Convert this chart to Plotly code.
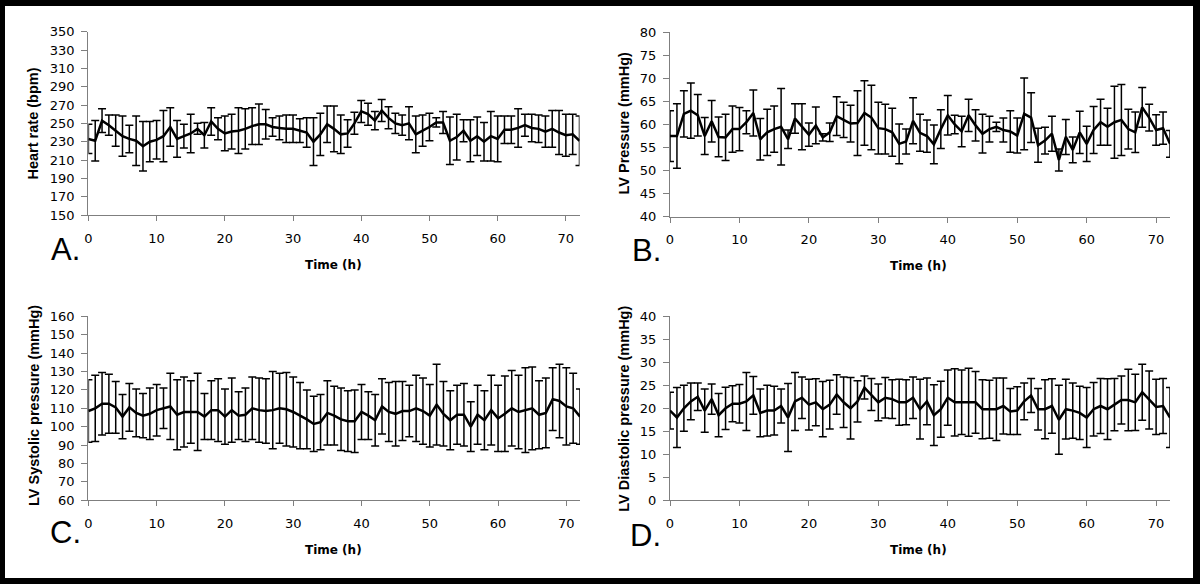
import plotly.graph_objects as go

hours = list(range(73))

hr_mean = [233, 231, 253, 248, 242, 236, 233, 231, 225, 230, 232, 236, 246, 233, 236, 239, 244, 237, 252, 244,
           239, 241, 242, 244, 247, 249, 249, 246, 245, 244, 244, 242, 240, 230, 238, 249, 244, 238, 239, 250,
           263, 260, 253, 264, 256, 250, 248, 250, 238, 242, 246, 251, 251, 231, 235, 242, 231, 236, 230, 236,
           233, 243, 243, 245, 248, 245, 244, 241, 244, 240, 237, 238, 231]
hr_sd = [16, 22, 13, 11, 17, 22, 15, 27, 27, 22, 21, 28, 21, 20, 13, 21, 6, 14, 15, 12,
         19, 19, 25, 22, 20, 22, 16, 10, 13, 15, 15, 13, 16, 26, 23, 20, 25, 21, 15, 12,
         12, 12, 10, 12, 12, 11, 11, 18, 20, 17, 15, 5, 12, 26, 25, 12, 23, 21, 21, 27,
         25, 15, 15, 21, 12, 15, 15, 17, 20, 24, 23, 22, 27]

lvp_mean = [57.5, 57.5, 62.3, 63, 62, 57.5, 60.7, 57.3, 57.2, 59, 59, 60.5, 62.5, 56.8, 58.3, 59, 59.5, 56.8, 61.3, 59.5,
            57.8, 59.8, 57.2, 58.3, 61.8, 61, 60.2, 60.3, 62.5, 61.5, 59.2, 59, 58.3, 55.8, 56.3, 60.8, 58.2, 57.5, 55.7, 59,
            62, 60, 58.5, 62, 59.8, 58, 59, 59.5, 58.8, 58.5, 57.6, 62.3, 61.5, 55.5, 56.5, 58, 52.3, 57.3, 54.5, 58.3,
            55.8, 58.8, 60.5, 59.5, 60.5, 61, 59, 58.3, 63.7, 61.5, 58.8, 59.2, 55.8]
lvp_sd = [5.5, 7, 5, 6, 4.5, 4, 4.5, 4.3, 5, 5, 4.7, 2.5, 5, 4.5, 5, 5, 8.3, 2, 3.2, 5,
          2.5, 4, 0.8, 2, 4.2, 3.8, 4, 7, 7, 7, 5.6, 5.4, 5.2, 4.3, 2.7, 5, 4, 3.5, 4.2, 4.2,
          4.3, 2, 3.3, 3.5, 3.4, 4.2, 2.8, 1, 2.6, 4.5, 3.8, 7.8, 5.4, 3.7, 2.9, 3.8, 2.4, 3.8, 2.8, 4.6,
          3.8, 5.1, 5, 4, 7.8, 7.7, 4.3, 4.4, 4.3, 2.9, 3.3, 3.5, 2.9]

sys_mean = [108.5, 110, 112.5, 112.5, 110.5, 105.5, 110.5, 107.5, 106, 107, 109, 110, 111, 106.5, 108, 108, 108, 105.5, 109, 109,
            105.5, 109, 106, 106.5, 110, 109, 108.5, 109, 110, 109.5, 108, 106, 104, 101.5, 102.5, 107.5, 106, 104, 103, 103,
            108, 106, 103.5, 111, 108, 107, 108.5, 108.5, 110, 108.5, 106, 112, 107, 103.5, 106.5, 106.5, 100, 106.5, 103.5, 109,
            104.5, 107, 110, 108, 109, 110, 106.5, 107.5, 115, 114, 111, 110, 105.5]
sys_sd = [17, 18, 17, 16, 14, 12, 13, 13, 12, 14, 14, 11, 18, 19, 19, 17, 21, 12.5, 16, 17,
          15, 17.5, 13, 14.5, 17, 17.5, 17.5, 21, 19, 20, 19, 18, 16, 15, 15, 17.5, 16, 17, 16.5, 17,
          15, 13, 14, 15, 16, 17.5, 16, 14, 18, 18, 17, 22, 17.5, 16, 16, 17, 13.5, 16, 16, 19,
          18, 20.5, 20.5, 20, 23, 22.5, 18.5, 19, 17, 20, 21, 19, 15]

dia_mean = [19.5, 18, 20, 21.5, 22.5, 19.5, 22, 18.5, 20, 21, 21, 21.5, 22.8, 19, 19.5, 19.5, 20.5, 18, 21.5, 22.3,
            20.8, 21.3, 19.8, 20.8, 23, 21.3, 20, 21.5, 24.5, 23, 21.3, 22.3, 22, 21.3, 21.3, 22.3, 19.8, 21.5, 18.5, 19.8,
            22.3, 21.3, 21.3, 21.3, 21.3, 19.8, 19.8, 19.8, 20.5, 19.3, 19.5, 21.5, 22.8, 19.8, 19.8, 20.5, 17.5, 19.8, 19.5, 19,
            18, 19.8, 20.5, 19.8, 20.8, 21.8, 21.8, 21.3, 23.5, 21.8, 20.3, 20.5, 18]
dia_sd = [4, 6.5, 5, 4, 3, 4.7, 3.3, 4.7, 4.6, 3.9, 4.2, 6.3, 4.1, 5.2, 5.5, 5.3, 3.7, 7.4, 6.3, 4.5,
          5.5, 5.1, 6, 5.3, 4.3, 5.5, 6.7, 4.5, 2.5, 3.5, 4, 4.4, 4.2, 5, 4.9, 4.5, 6.5, 5.1, 6.6, 6.1,
          6, 7.3, 7, 7.4, 6.7, 6.4, 6.3, 6.8, 6.1, 5, 5.2, 4, 3.7, 4.5, 6.4, 5.9, 7.5, 6.5, 6, 5.8,
          6.5, 5.8, 6, 6.6, 5.7, 5.2, 6.7, 6.1, 6.1, 6.3, 6, 6, 6.5]

panels = [
    # (mean, sd, y range, dtick, ytitle, letter)
    (hr_mean, hr_sd, [150, 350], 20, "Heart rate (bpm)", "A."),
    (lvp_mean, lvp_sd, [40, 80], 5, "LV Pressure (mmHg)", "B."),
    (sys_mean, sys_sd, [60, 160], 10, "LV Systolic pressure (mmHg)", "C."),
    (dia_mean, dia_sd, [0, 40], 5, "LV Diastolic pressure (mmHg)", "D."),
]

W, H = 1200, 584
# plot areas in pixels: (x0, x1, ytop, ybottom)
areas = [
    (88.4, 579.5, 31.7, 215.0),
    (670.0, 1170.0, 32.3, 216.7),
    (88.4, 580.0, 316.3, 500.3),
    (670.0, 1170.0, 316.3, 500.3),
]

fig = go.Figure()
axis_col = "#7f7f7f"
annotations = []

for i, ((mean, sd, yr, dt, ytitle, letter), (x0, x1, yt, yb)) in enumerate(zip(panels, areas)):
    n = "" if i == 0 else str(i + 1)
    fig.add_trace(go.Scatter(
        x=hours, y=mean, mode="lines",
        line=dict(color="black", width=2.5),
        error_y=dict(type="data", array=sd, symmetric=True, color="black", thickness=1.5, width=4),
        xaxis="x" + n, yaxis="y" + n, showlegend=False, cliponaxis=False,
    ))
    fig.layout["xaxis" + n] = dict(
        domain=[x0 / W, x1 / W], anchor="y" + n, range=[0, 72], automargin=False,
        tickvals=list(range(0, 71, 10)), showline=True, linecolor=axis_col, linewidth=1.3,
        ticks="outside", ticklen=5, tickcolor=axis_col, showgrid=False, zeroline=False,
        tickfont=dict(family="DejaVu Sans", size=13, color="black"), ticklabelstandoff=6,
        fixedrange=True,
    )
    fig.layout["yaxis" + n] = dict(
        domain=[1 - yb / H, 1 - yt / H], anchor="x" + n, range=yr, dtick=dt, tick0=yr[0],
        showline=True, linecolor=axis_col, linewidth=1.3, automargin=False,
        ticks="outside", ticklen=6, tickcolor=axis_col, showgrid=False, zeroline=False,
        tickfont=dict(family="DejaVu Sans", size=13, color="black"), ticklabelstandoff=4,
        fixedrange=True,
    )

# text positions (pixels)
ytitle_pos = [(33, 123.5), (624, 123.5), (34, 406), (624, 408.7)]
time_pos = [(333, 265), (918, 266), (333, 550), (918, 550)]
letter_pos = [(65, 249), (646, 250), (65, 532), (645, 535)]

for i, (p, yp, tp, lp) in enumerate(zip(panels, ytitle_pos, time_pos, letter_pos)):
    annotations.append(dict(x=yp[0] / W, y=1 - yp[1] / H, xref="paper", yref="paper",
                            text="<b>%s</b>" % p[4], textangle=-90, showarrow=False,
                            font=dict(family="Liberation Sans", size=14.5, color="black"),
                            xanchor="center", yanchor="middle"))
    annotations.append(dict(x=tp[0] / W, y=1 - tp[1] / H, xref="paper", yref="paper",
                            text="<b>Time (h)</b>", showarrow=False,
                            font=dict(family="DejaVu Sans", size=12, color="black"),
                            xanchor="center", yanchor="middle"))
    annotations.append(dict(x=lp[0] / W, y=1 - lp[1] / H, xref="paper", yref="paper",
                            text=p[5], showarrow=False,
                            font=dict(family="Liberation Sans", size=31, color="black"),
                            xanchor="center", yanchor="middle"))

fig.update_layout(
    width=W, height=H, margin=dict(l=0, r=0, t=0, b=0, autoexpand=False),
    paper_bgcolor="white", plot_bgcolor="white",
    annotations=annotations,
    shapes=[
        dict(type="rect", xref="paper", yref="paper", x0=0, x1=5 / W, y0=0, y1=1, fillcolor="black", line_width=0),
        dict(type="rect", xref="paper", yref="paper", x0=1 - 7 / W, x1=1, y0=0, y1=1, fillcolor="black", line_width=0),
        dict(type="rect", xref="paper", yref="paper", x0=0, x1=1, y0=1 - 6 / H, y1=1, fillcolor="black", line_width=0),
        dict(type="rect", xref="paper", yref="paper", x0=0, x1=1, y0=0, y1=6 / H, fillcolor="black", line_width=0),
    ],
)

fig.write_html("out.html", config={"displayModeBar": False},
               post_script="document.body.style.margin='0';document.body.style.overflow='hidden';")
